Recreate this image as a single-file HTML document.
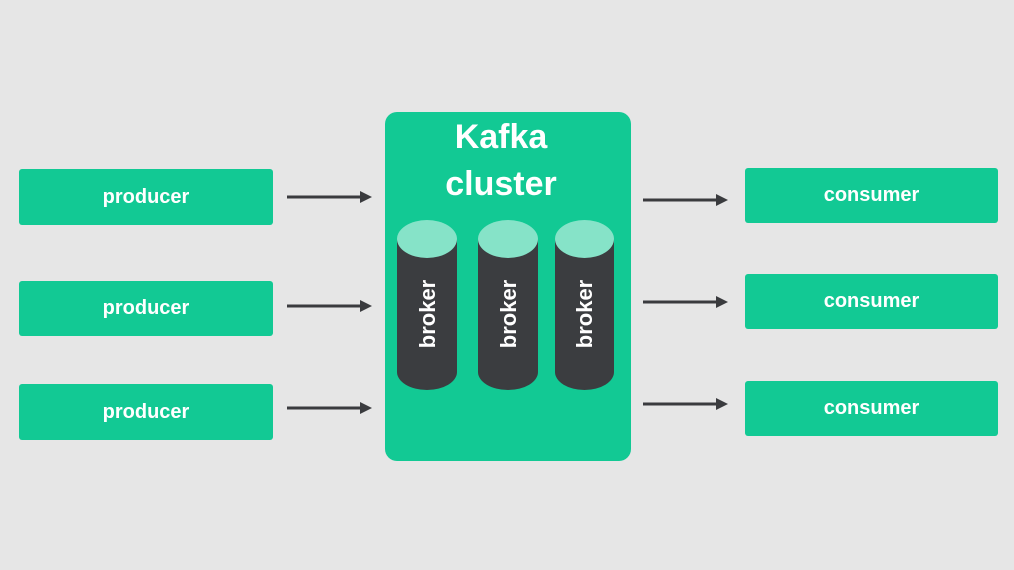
<!DOCTYPE html>
<html><head><meta charset="utf-8"><style>
html,body{margin:0;padding:0;width:1014px;height:570px;overflow:hidden;background:#e6e6e6;font-family:"Liberation Sans",sans-serif;}
.b{position:absolute;background:#12c994;border-radius:3px;color:#fff;font-weight:bold;font-size:20px;display:flex;align-items:center;justify-content:center;}
</style></head><body>
<div class="b" style="left:19px;top:169px;width:254px;height:56px;">producer</div>
<div class="b" style="left:19px;top:281px;width:254px;height:55px;">producer</div>
<div class="b" style="left:19px;top:384px;width:254px;height:56px;">producer</div>
<div class="b" style="left:745px;top:168px;width:253px;height:55px;">consumer</div>
<div class="b" style="left:745px;top:274px;width:253px;height:55px;">consumer</div>
<div class="b" style="left:745px;top:381px;width:253px;height:55px;">consumer</div>
<div style="position:absolute;left:385px;top:112px;width:246px;height:349px;background:#12c994;border-radius:12px;"></div>
<div style="position:absolute;left:385px;top:114px;width:232px;text-align:center;color:#fff;font-weight:bold;font-size:34px;line-height:47px;">Kafka<br>cluster</div>
<svg width="1014" height="570" style="position:absolute;left:0;top:0">
<defs><marker id="a" markerWidth="4" markerHeight="4" refX="2" refY="2" orient="auto"><path d="M0,0 L4,2 L0,4 Z" fill="#3a3b3e"/></marker></defs>
<g stroke="#3a3b3e" stroke-width="3" marker-end="url(#a)">
<line x1="287" y1="197" x2="366" y2="197"/>
<line x1="287" y1="306" x2="366" y2="306"/>
<line x1="287" y1="408" x2="366" y2="408"/>
<line x1="643" y1="200" x2="722" y2="200"/>
<line x1="643" y1="302" x2="722" y2="302"/>
<line x1="643" y1="404" x2="722" y2="404"/>
</g>
<g>
<path d="M397,239 V372 A30,18 0 0 0 457,372 V239 Z" fill="#3b3d40"/>
<ellipse cx="427" cy="239" rx="30" ry="19" fill="#86e3c8"/>
<path d="M478,239 V372 A30,18 0 0 0 538,372 V239 Z" fill="#3b3d40"/>
<ellipse cx="508" cy="239" rx="30" ry="19" fill="#86e3c8"/>
<path d="M555,239 V372 A29.5,18 0 0 0 614,372 V239 Z" fill="#3b3d40"/>
<ellipse cx="584.5" cy="239" rx="29.5" ry="19" fill="#86e3c8"/>
</g>
<g fill="#fff" font-family="Liberation Sans, sans-serif" font-size="22" font-weight="bold" text-anchor="middle">
<text transform="translate(435,314) rotate(-90)">broker</text>
<text transform="translate(516,314) rotate(-90)">broker</text>
<text transform="translate(592,314) rotate(-90)">broker</text>
</g>
</svg>
</body></html>
